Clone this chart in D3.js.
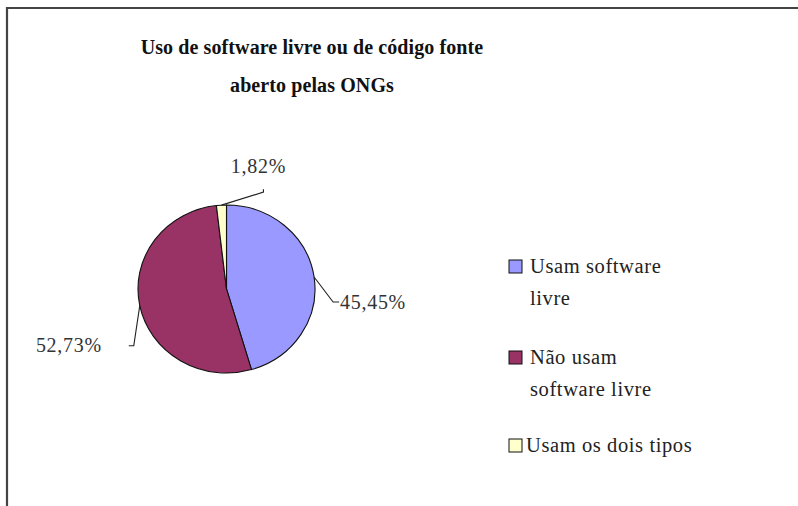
<!DOCTYPE html>
<html>
<head>
<meta charset="utf-8">
<script src="https://cdn.jsdelivr.net/npm/d3@7"></script>
<style>
  html, body { margin: 0; padding: 0; background: #fff; }
  svg { display: block; }
</style>
</head>
<body>
<script>
// dados do gráfico
var categorias = ["Usam software livre", "Não usam software livre", "Usam os dois tipos"];
var valores = [45.45, 52.73, 1.82];
var rotulos = ["45,45%", "52,73%", "1,82%"];
var legendaLinhas = [["Usam software", "livre"], ["Não usam", "software livre"], ["Usam os dois tipos"]];
var titulo = ["Uso de software livre ou de código fonte", "aberto pelas ONGs"];
var cores = ["#9999ff", "#993366", "#ffffcc"];

var serif = "'Liberation Serif', 'DejaVu Serif', serif";
var width = 798, height = 506;
var cx = 226.5, cy = 289, rx = 88.5, ry = 84;

var svg = d3.select("body").append("svg")
    .attr("width", width)
    .attr("height", height);

// moldura
svg.append("path")
    .attr("d", "M7,506 V8 H798")
    .style("fill", "none")
    .style("stroke", "#444")
    .style("stroke-width", 2.2);

// título
svg.selectAll(".titulo")
    .data(titulo)
    .enter().append("text")
    .attr("class", "titulo")
    .attr("x", 312)
    .attr("y", function(d, i) { return 54 + i * 38; })
    .attr("text-anchor", "middle")
    .style("font-family", serif)
    .style("font-size", "20px")
    .style("font-weight", "bold")
    .style("letter-spacing", "0.1px")
    .style("fill", "#111")
    .text(function(d) { return d; });

var pie = d3.pie().sort(null).value(function(d) { return d; });
var arcs = pie(valores);

var arc = d3.arc().innerRadius(0).outerRadius(rx);

var g = svg.append("g")
    .attr("transform", "translate(" + cx + "," + cy + ") scale(1," + (ry / rx) + ")");

g.selectAll("path")
    .data(arcs)
    .enter().append("path")
    .attr("d", arc)
    .attr("vector-effect", "non-scaling-stroke")
    .style("fill", function(d, i) { return cores[i]; })
    .style("stroke", "#111")
    .style("stroke-width", 1.1);

// ponto na borda da fatia (ângulo médio)
function borda(d) {
    var a = (d.startAngle + d.endAngle) / 2;
    return [cx + rx * Math.sin(a), cy - ry * Math.cos(a)];
}

// linhas de chamada e rótulos (deslocamentos relativos à borda)
var chamadas = [
    { pts: [[0, 0], [19, 25], [25, 25]], txt: [26, 32], anchor: "start" },
    { pts: [[0, 0], [-6, 40], [-11, 40]], txt: [-38, 46], anchor: "end" },
    { pts: [[0, 0], [42, -13], [42, -16]], txt: [37, -32], anchor: "middle" }
];

arcs.forEach(function(d, i) {
    var p = borda(d);
    var c = chamadas[i];
    svg.append("polyline")
        .attr("points", c.pts.map(function(q) { return (p[0] + q[0]) + "," + (p[1] + q[1]); }).join(" "))
        .style("fill", "none")
        .style("stroke", "#222")
        .style("stroke-width", 1.1);
    svg.append("text")
        .attr("x", p[0] + c.txt[0])
        .attr("y", p[1] + c.txt[1])
        .attr("text-anchor", c.anchor)
        .style("font-family", serif)
        .style("font-size", "20px")
        .style("letter-spacing", "0.7px")
        .style("fill", "#333")
        .text(rotulos[i]);
});

// legenda
var legY = [260, 351, 439];
var leg = svg.selectAll(".leg")
    .data(categorias)
    .enter().append("g")
    .attr("class", "leg")
    .attr("transform", function(d, i) { return "translate(509," + legY[i] + ")"; });

leg.append("rect")
    .attr("width", 13)
    .attr("height", 13)
    .style("fill", function(d, i) { return cores[i]; })
    .style("stroke", "#111")
    .style("stroke-width", 1);

leg.each(function(d, i) {
    d3.select(this).selectAll("text")
        .data(legendaLinhas[i])
        .enter().append("text")
        .attr("x", i == 2 ? 17 : 21)
        .attr("y", function(t, j) { return 13 + j * 32; })
        .style("font-family", serif)
        .style("font-size", "20.5px")
        .style("letter-spacing", "0.6px")
        .style("fill", "#222")
        .text(function(t) { return t; });
});
</script>
</body>
</html>
